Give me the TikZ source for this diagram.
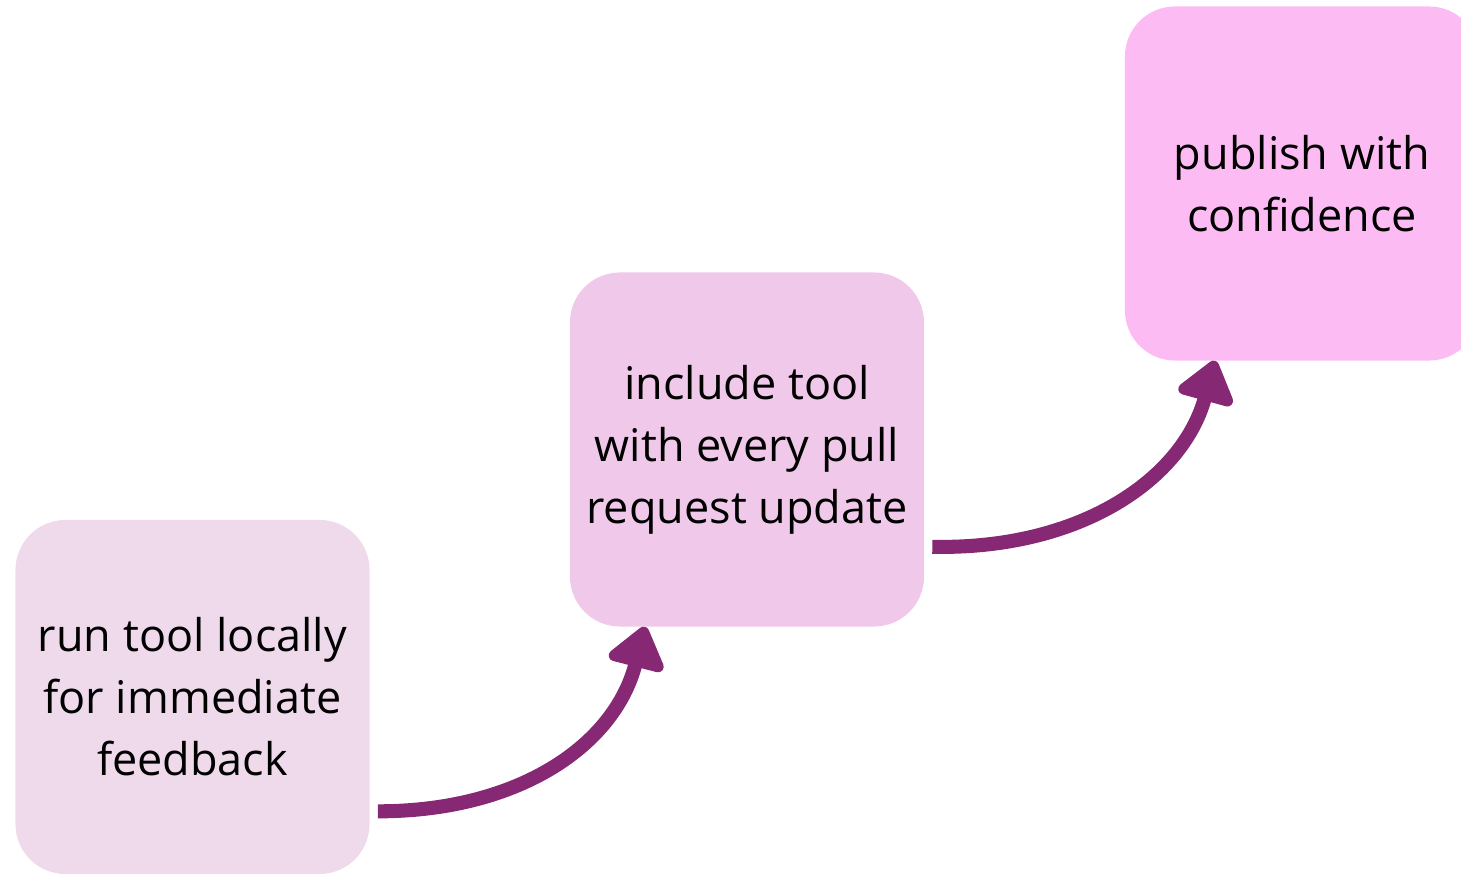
\documentclass[tikz,border=0pt]{standalone}
\usepackage{fontspec}
\setmainfont{Open Sans}
\usetikzlibrary{arrows.meta,calc}
\definecolor{stageA}{HTML}{EFDAEC}
\definecolor{stageB}{HTML}{F0C8EA}
\definecolor{stageC}{HTML}{FDBBF3}
\definecolor{flowpurple}{HTML}{862873}

\begin{document}
\begin{tikzpicture}[x=0.025cm,y=0.025cm]
        \tikzstyle{stage}=[rounded corners=1.25cm,minimum width=8.85cm,minimum height=8.85cm,inner sep=0pt,align=center,font=\fontsize{32}{44}\selectfont]
        \tikzstyle{flow}=[line width=10pt,draw=flowpurple,-{Triangle[width=46pt,length=32pt,round,fill=flowpurple]}]
        \clip (0,0) rectangle (1461,874);
        \node[stage,fill=stageA] (run) at (192.5,177) {run tool locally\\for immediate\\feedback};
        \node[stage,fill=stageB] (include) at (747,424.5) {include tool\\with every pull\\request update};
        \node[stage,fill=stageC] (publish) at (1302,690.5) {publish with\\confidence};
        \coordinate (s_1) at ($(run.south east)+(8,63)$);
        \coordinate (e_1) at ($(include.south)+(-102,0)$);
        \coordinate (s_2) at ($(include.south east)+(8,80)$);
        \coordinate (e_2) at ($(publish.south)+(-87,0)$);
        \draw[flow] (s_1) .. controls +(143,0) and +(-30,-117) .. (e_1);
        \draw[flow] (s_2) .. controls +(150,-3) and +(-32,-117) .. (e_2);
\end{tikzpicture}
\end{document}
